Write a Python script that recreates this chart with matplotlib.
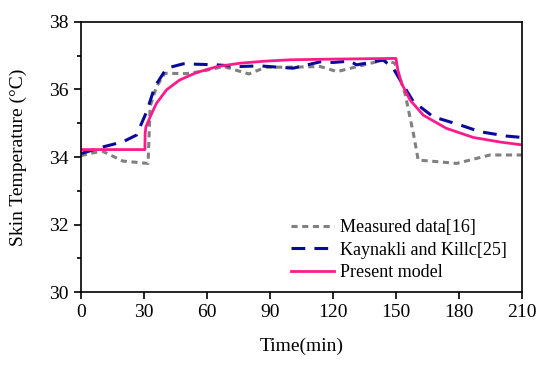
import matplotlib
matplotlib.use("Agg")
import matplotlib.pyplot as plt
from matplotlib.ticker import MultipleLocator

plt.rcParams["font.family"] = ["Liberation Serif", "DejaVu Serif"]

# measured data [16]
measured_t = [0, 10, 20, 32, 33, 36, 40, 50, 57, 68, 80, 88, 100, 114, 122, 133, 144, 149.5, 154.3, 158.3, 160.6, 170, 178.9, 194.8, 210]
measured_T = [34.04, 34.18, 33.88, 33.81, 35.5, 36.08, 36.48, 36.47, 36.53, 36.68, 36.46, 36.66, 36.66, 36.68, 36.53, 36.7, 36.87, 36.78, 35.89, 34.7, 33.91, 33.86, 33.81, 34.06, 34.06]

# Kaynakli and Kilic [25]
kay_t = [0, 10.6, 20, 26.5, 31.3, 35.2, 40.8, 48.7, 64.6, 75.7, 85, 101, 114, 120, 128, 131.3, 144, 148.7, 152, 158.3, 167.8, 180.5, 190, 202.7, 210]
kay_T = [34.1, 34.3, 34.45, 34.65, 35.34, 36.08, 36.63, 36.76, 36.73, 36.68, 36.7, 36.63, 36.82, 36.8, 36.84, 36.73, 36.87, 36.63, 36.28, 35.64, 35.19, 34.95, 34.75, 34.62, 34.58]

# present model
model_t = [0, 30.5, 30.6, 31, 33, 36, 40.8, 47, 55, 65, 76, 88, 100, 120, 150, 151, 152.7, 156.7, 163, 174, 186.8, 200, 210]
model_T = [34.22, 34.22, 34.7, 34.9, 35.19, 35.59, 35.99, 36.28, 36.5, 36.68, 36.78, 36.84, 36.88, 36.9, 36.92, 36.55, 36.18, 35.69, 35.24, 34.85, 34.58, 34.44, 34.36]

fig = plt.figure(figsize=(5.5, 3.66), dpi=100)
ax = fig.add_axes([0.147, 0.202, 0.802, 0.738])

ax.plot(measured_t, measured_T, color="#808080", lw=2.2, dashes=(2.0, 1.5), label="Measured data[16]")
ax.plot(kay_t, kay_T, color="#0a0a9a", lw=2.2, dashes=(4.5, 3.0), label="Kaynakli and Killc[25]")
ax.plot(model_t, model_T, color="#ff1a8c", lw=2.0, label="Present model")

ax.set_xlim(0, 210)
ax.set_ylim(30, 38)
ax.xaxis.set_major_locator(MultipleLocator(30))
ax.yaxis.set_major_locator(MultipleLocator(2))
ax.yaxis.set_minor_locator(MultipleLocator(1))
ax.tick_params(direction="out", length=5, width=1.2, labelsize=14)
ax.tick_params(which="minor", direction="out", length=3, width=1.2)
for s in ax.spines.values():
    s.set_linewidth(1.2)

ax.set_xlabel("Time(min)", fontsize=14, labelpad=12)
ax.set_ylabel("Skin Temperature (\u00b0C)", fontsize=14, labelpad=16)

ax.legend(loc="lower right", frameon=False, fontsize=13, handlelength=2.4,
          handletextpad=0.3, labelspacing=0.3, borderaxespad=0.2,
          bbox_to_anchor=(0.99, 0.0))

fig.savefig("out.png", dpi=100)
